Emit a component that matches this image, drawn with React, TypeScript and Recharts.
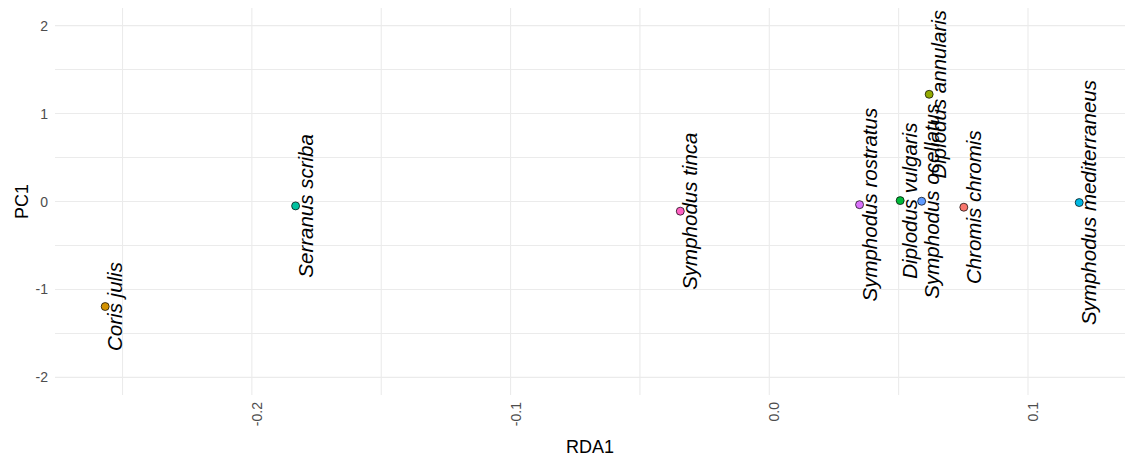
import { ScatterChart, Scatter, XAxis, YAxis, CartesianGrid, Label } from 'recharts';

const SPECIES = [
  'Chromis chromis',
  'Coris julis',
  'Diplodus annularis',
  'Diplodus vulgaris',
  'Serranus scriba',
  'Symphodus mediterraneus',
  'Symphodus ocellatus',
  'Symphodus rostratus',
  'Symphodus tinca',
];
const RDA1 = [0.0752, -0.2567, 0.0618, 0.0506, -0.1831, 0.1198, 0.0589, 0.0349, -0.0344];
const PC1 = [-0.065, -1.194, 1.219, 0.01, -0.05, -0.012, 0.003, -0.036, -0.11];
const COLORS = ['#F8766D', '#D39200', '#93AA00', '#00BA38', '#00C19F', '#00B9E3', '#619CFF', '#DB72FB', '#FF61C3'];

const X_TICKS = [-0.25, -0.2, -0.15, -0.1, -0.05, 0, 0.05, 0.1];
const Y_TICKS = [-2, -1.5, -1, -0.5, 0, 0.5, 1, 1.5, 2];

const FONT = '"Liberation Sans", Arial, sans-serif';

const points = SPECIES.map((name, i) => ({ name, x: RDA1[i], y: PC1[i], color: COLORS[i] }));

const isMajor = (v: number, step: number) => Math.abs(v / step - Math.round(v / step)) < 1e-6;

function XTick({ x, payload }: any) {
  const v = payload.value;
  if (!isMajor(v, 0.1)) return <g />;
  return (
    <text
      x={x}
      y={402}
      dy={10}
      transform={`rotate(-90, ${x}, 402)`}
      textAnchor="end"
      fill="#4D4D4D"
      fontSize={14}
      fontFamily={FONT}
    >
      {v.toFixed(1)}
    </text>
  );
}

function YTick({ y, payload }: any) {
  const v = payload.value;
  if (!isMajor(v, 1)) return <g />;
  return (
    <text x={48} y={y} dy={5} textAnchor="end" fill="#4D4D4D" fontSize={14} fontFamily={FONT}>
      {v}
    </text>
  );
}

function Dot({ cx, cy, payload }: any) {
  return <circle cx={cx} cy={cy} r={4} fill={payload.color} stroke="#000" strokeWidth={0.7} />;
}

function SpeciesLabel({ cx, cy, payload }: any) {
  return (
    <text
      x={cx}
      y={cy}
      dy={17}
      transform={`rotate(-90, ${cx}, ${cy})`}
      textAnchor="middle"
      fontSize={20.5}
      fontStyle="italic"
      fontFamily={FONT}
      fill="#000"
    >
      {payload.name}
    </text>
  );
}

export default function App() {
  return (
    <div style={{ position: 'absolute', left: 0, top: 0, background: '#fff' }}>
      <ScatterChart width={1125} height={456} margin={{ top: 8, right: 0, bottom: 0, left: 0 }}>
        <CartesianGrid stroke="#EBEBEB" strokeWidth={1.1} syncWithTicks />
        <XAxis
          type="number"
          dataKey="x"
          domain={[-0.2761, 0.1375]}
          ticks={X_TICKS}
          allowDataOverflow
          axisLine={false}
          tickLine={false}
          height={61}
          tick={<XTick />}
        >
          <Label
            content={({ viewBox }: any) => (
              <text
                x={viewBox.x + viewBox.width / 2}
                y={viewBox.y + 58}
                textAnchor="middle"
                fontSize={18}
                fill="#000"
                fontFamily={FONT}
              >
                RDA1
              </text>
            )}
          />
        </XAxis>
        <YAxis
          type="number"
          dataKey="y"
          domain={[-2.2, 2.2]}
          ticks={Y_TICKS}
          allowDataOverflow
          axisLine={false}
          tickLine={false}
          width={55}
          tick={<YTick />}
        >
          <Label
            content={({ viewBox }: any) => {
              const cy = viewBox.y + viewBox.height / 2;
              return (
                <text
                  x={28}
                  y={cy}
                  transform={`rotate(-90, 28, ${cy})`}
                  textAnchor="middle"
                  fontSize={18}
                  fill="#000"
                  fontFamily={FONT}
                >
                  PC1
                </text>
              );
            }}
          />
        </YAxis>
        <Scatter data={points} shape={<Dot />} isAnimationActive={false} />
        <Scatter data={points} shape={<SpeciesLabel />} isAnimationActive={false} />
      </ScatterChart>
    </div>
  );
}
